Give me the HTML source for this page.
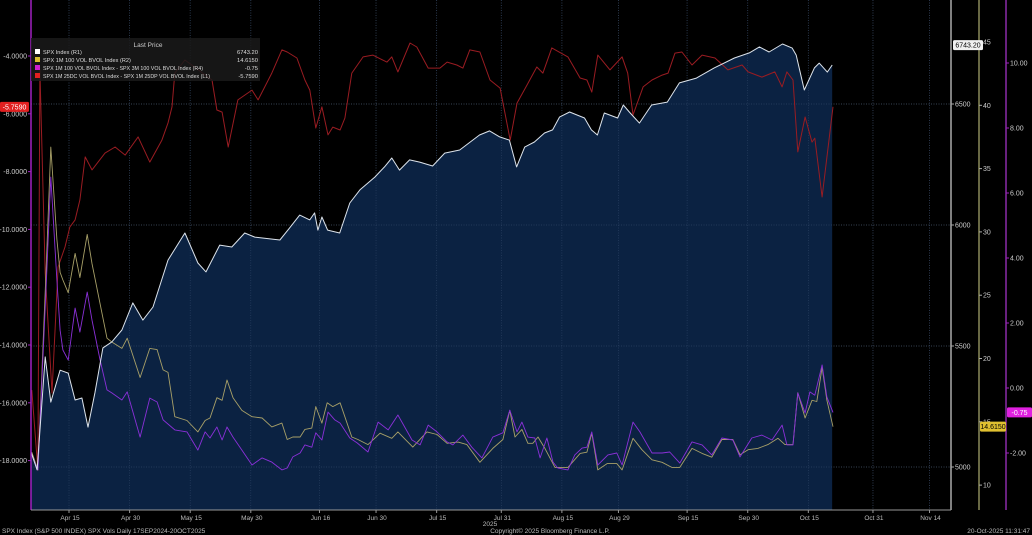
<!DOCTYPE html>
<html><head><meta charset="utf-8">
<style>
html,body{margin:0;padding:0;background:#000;width:1032px;height:535px;overflow:hidden}
svg{display:block;font-family:"Liberation Sans",sans-serif}
</style></head>
<body>
<svg id="chart" width="1032" height="535" viewBox="0 0 1032 535" xmlns="http://www.w3.org/2000/svg">
<rect x="0" y="0" width="1032" height="535" fill="#000"/>
<g id="grid"></g>
<g id="area"></g>
<g id="lines"></g>
<g id="axes"></g>
<g id="legend">
<rect x="31" y="38" width="229" height="43" fill="#1a1a1a" fill-opacity="0.85"/>
<text x="148" y="47" font-size="6.5" fill="#ccc" text-anchor="middle">Last Price</text>
<rect x="35" y="49" width="5" height="5" fill="#fff"/>
<text x="43" y="54" font-size="5.6" fill="#ddd">SPX Index  (R1)</text>
<text x="258" y="54" font-size="5.8" fill="#ddd" text-anchor="end">6743.20</text>
<rect x="35" y="57" width="5" height="5" fill="#d8c030"/>
<text x="43" y="62" font-size="5.6" fill="#ddd">SPX 1M 100 VOL BVOL Index  (R2)</text>
<text x="258" y="62" font-size="5.8" fill="#ddd" text-anchor="end">14.6150</text>
<rect x="35" y="65" width="5" height="5" fill="#d020d0"/>
<text x="43" y="70" font-size="5.6" fill="#ddd" textLength="160" lengthAdjust="spacingAndGlyphs">SPX 1M 100 VOL BVOL Index - SPX 3M 100 VOL BVOL Index  (R4)</text>
<text x="258" y="70" font-size="5.8" fill="#ddd" text-anchor="end">-0.75</text>
<rect x="35" y="73" width="5" height="5" fill="#e02020"/>
<text x="43" y="78" font-size="5.6" fill="#ddd" textLength="167" lengthAdjust="spacingAndGlyphs">SPX 1M 25DC VOL BVOL Index - SPX 1M 25DP VOL BVOL Index  (L1)</text>
<text x="258" y="78" font-size="5.8" fill="#ddd" text-anchor="end">-5.7590</text>
</g>
<text x="2" y="533" font-size="6.5" fill="#bbb">SPX Index (S&amp;P 500 INDEX) SPX Vols Daily 17SEP2024-20OCT2025</text>
<text x="550" y="533" font-size="6.5" fill="#bbb" text-anchor="middle">Copyright© 2025 Bloomberg Finance L.P.</text>
<text x="1030" y="533" font-size="6.5" fill="#bbb" text-anchor="end">20-Oct-2025 11:31:47</text>
</svg>
<script>
// x = days since Apr 15 2025
const dateTickDays = [0,15,30,45,62,76,91,107,122,136,153,168,183,199,213];
const dateTickLabels = ["Apr 15","Apr 30","May 15","May 30","Jun 16","Jun 30","Jul 15","Jul 31","Aug 15","Aug 29","Sep 15","Sep 30","Oct 15","Oct 31","Nov 14"];
const l1Ticks = [-4,-6,-8,-10,-12,-14,-16,-18];
const r1Ticks = [5000,5500,6000,6500];
const r2Ticks = [10,15,20,25,30,35,40,45];
const r4Ticks = [-2,0,2,4,6,8,10];

const spxDays = [-9.4,-7.9,-5.9,-4.5,-2.2,-0.2,1.5,3.2,4.7,6.4,8.4,10.6,13.1,15.8,18.3,20.8,24.5,28.7,31.9,33.9,37.3,40.3,43.5,46.0,52.2,54.6,57.1,59.6,60.8,61.6,62.6,64.0,67.0,69.5,72.0,75.7,78.1,79.9,81.8,84.3,86.8,90.0,93.0,96.7,101.6,104.1,106.6,109.0,110.8,112.8,115.2,117.7,119.7,121.4,123.9,127.6,129.3,130.8,132.5,135.8,137.2,138.7,141.2,144.2,148.1,151.1,155.3,159.7,164.7,168.4,170.9,173.3,176.6,179.0,180.0,182.0,184.5,185.7,187.7,188.9];
const spxValues = [5062,4988,5455,5268,5400,5388,5277,5285,5165,5306,5492,5517,5566,5678,5607,5661,5855,5967,5843,5806,5917,5909,5967,5950,5938,5988,6041,6021,6050,5979,6033,5979,5967,6091,6145,6198,6240,6277,6227,6269,6260,6244,6297,6310,6372,6389,6364,6351,6240,6322,6343,6380,6393,6446,6467,6442,6393,6372,6463,6442,6496,6467,6421,6496,6508,6587,6607,6649,6690,6711,6736,6715,6748,6731,6702,6558,6649,6669,6632,6661,6743.2];

const skewDays = [-9.2,-7.7,-7.2,-5.9,-4.2,-2.7,-1.0,0.2,1.5,2.7,4.0,5.7,8.9,11.4,13.9,17.1,20.0,23.0,24.5,25.5,26.2,28.7,35.4,36.6,37.9,39.4,41.8,45.3,46.8,50.2,52.7,54.0,56.4,58.4,59.6,61.1,62.6,64.1,65.3,67.1,68.3,70.0,72.8,75.2,78.7,79.9,81.4,84.4,86.1,88.9,91.8,93.6,96.0,97.5,99.2,101.7,104.2,106.7,109.2,110.9,113.4,115.8,117.3,119.5,123.5,126.5,128.2,129.4,130.9,133.9,136.9,138.3,139.6,142.1,144.3,146.8,148.3,150.0,151.7,154.2,156.7,159.9,163.1,166.6,168.1,171.5,174.7,176.5,177.7,179.2,180.4,182.2,183.9,184.6,186.4,189.1];
const skewValues = [-15.56,-18.33,-4.48,-11.51,-15.66,-11.30,-10.61,-9.92,-9.67,-8.98,-7.49,-7.94,-7.36,-7.15,-7.43,-6.80,-7.67,-6.91,-6.32,-5.76,-4.59,-4.14,-4.83,-5.87,-5.94,-7.15,-5.52,-5.18,-5.52,-4.59,-3.79,-3.86,-4.07,-4.83,-5.18,-6.49,-5.76,-6.73,-6.46,-6.56,-6.15,-4.59,-4.03,-3.97,-4.21,-4.03,-4.55,-3.55,-3.69,-4.42,-4.42,-4.21,-4.31,-4.42,-3.79,-3.86,-4.83,-5.11,-6.91,-5.63,-5.00,-4.38,-4.59,-3.72,-4.03,-4.76,-4.83,-5.25,-3.97,-4.48,-4.03,-4.59,-6.04,-5.07,-4.83,-4.66,-4.59,-3.90,-3.86,-4.31,-3.97,-4.07,-4.48,-4.31,-4.55,-4.73,-4.55,-5.07,-4.55,-4.83,-7.32,-6.11,-6.98,-6.84,-8.88,-5.759];

const volDays = [-9.2,-7.7,-5.7,-4.5,-3.0,-2.2,-1.5,-0.2,1.5,2.7,4.5,5.7,9.4,10.6,13.1,14.4,17.6,20.0,21.8,23.3,24.5,26.2,29.2,31.9,33.7,34.9,36.6,37.9,39.1,40.6,42.8,45.3,47.8,50.2,52.7,54.0,55.4,57.2,58.4,60.1,61.1,62.6,63.9,65.3,67.1,70.0,71.5,74.0,77.0,79.9,81.4,85.1,88.6,91.1,93.6,96.3,98.5,101.7,104.9,107.4,109.1,110.4,112.1,113.6,114.8,116.1,117.8,120.3,123.5,126.5,128.2,129.4,130.9,133.2,135.6,136.9,139.6,141.8,144.3,146.8,149.2,151.2,154.2,156.7,159.1,161.6,164.3,166.1,168.1,170.5,173.0,175.5,177.2,179.2,180.4,182.2,183.9,185.1,186.4,187.6,189.1];
const volValues = [12.6,11.2,26.8,36.7,29.4,26.8,26.2,25.2,28.3,26.4,29.8,27.5,21.6,21.3,20.8,21.6,18.5,20.8,20.7,19.1,18.9,15.4,15.1,14.2,15.1,15.3,16.9,16.7,18.3,16.9,15.9,15.4,15.3,14.6,14.9,13.6,13.8,13.8,14.4,14.5,16.2,14.9,16.5,16.2,16.5,13.8,13.6,13.2,14.1,13.7,14.2,13.0,14.2,14.0,13.3,13.4,13.2,11.8,12.9,13.6,15.9,13.8,14.4,13.3,13.3,13.8,12.9,11.4,11.4,12.5,12.6,14.1,11.2,11.7,11.7,11.2,13.7,12.8,12.0,11.8,11.4,11.4,12.9,12.5,12.2,13.6,13.6,12.4,12.8,12.9,13.2,13.7,13.2,13.2,17.3,15.3,16.7,16.6,19.3,16.7,14.615];

const termDays = [-9.2,-7.7,-5.7,-4.5,-3.0,-2.2,-1.5,-0.2,1.5,2.7,4.5,5.7,7.7,9.4,10.6,13.1,14.4,17.6,20.0,21.8,23.3,26.2,29.2,31.9,33.7,34.9,36.6,37.9,39.1,40.6,42.8,45.3,47.8,50.2,52.7,54.0,55.4,57.2,58.4,60.1,61.1,62.6,64.1,65.8,67.1,69.5,71.3,74.0,76.5,79.0,81.4,84.9,86.9,88.9,91.1,93.6,95.0,97.5,99.7,102.2,104.9,107.4,109.1,110.9,112.1,113.6,115.3,116.6,118.3,119.8,121.0,123.5,125.2,127.0,128.2,129.4,130.9,133.4,135.6,136.9,139.6,141.3,144.3,146.8,148.7,151.2,154.2,156.7,159.1,161.6,164.3,166.1,169.0,171.5,174.0,176.5,177.7,179.2,180.4,182.2,183.4,184.6,186.4,187.6,189.1];
const termValues = [-2.06,-2.52,3.02,6.49,3.32,1.78,1.17,0.86,2.46,1.72,2.95,2.09,0.86,-0.06,-0.15,-0.37,-0.12,-1.51,-0.31,-0.43,-0.98,-1.29,-1.35,-1.91,-1.35,-1.54,-1.20,-1.60,-1.20,-1.51,-1.91,-2.37,-2.15,-2.28,-2.52,-2.46,-2.12,-2.00,-1.75,-1.82,-1.38,-1.60,-0.74,-0.98,-1.08,-1.54,-1.69,-1.97,-1.05,-1.29,-0.83,-1.60,-1.75,-1.14,-1.35,-1.66,-1.75,-1.45,-1.82,-2.15,-1.51,-1.38,-0.68,-1.35,-1.05,-1.51,-1.54,-2.15,-1.54,-2.28,-2.46,-2.52,-2.06,-1.85,-1.82,-1.35,-2.37,-2.06,-2.00,-2.37,-1.05,-1.35,-2.00,-2.00,-1.97,-2.31,-1.66,-1.75,-2.06,-1.54,-1.60,-2.12,-1.54,-1.45,-1.60,-1.14,-1.75,-1.75,-0.15,-0.77,-0.12,-0.22,0.71,-0.28,-0.75];

const NS="http://www.w3.org/2000/svg";
const X0=31, X1=951, YB=510;
const xS = d => 69 + d*4.04;
const yL1 = v => 56 + (-4 - v)*28.9;
const yR1 = v => 104 + (6500 - v)*121/500;
const yR2 = v => 42 + (45 - v)*12.66;
const yR4 = v => 63 + (10 - v)*32.5;
function mk(tag, attrs, parent){const e=document.createElementNS(NS,tag);for(const k in attrs)e.setAttribute(k,attrs[k]);parent.appendChild(e);return e;}
const grid=document.getElementById('grid'), area=document.getElementById('area'), lines=document.getElementById('lines'), axes=document.getElementById('axes');

r1Ticks.forEach(v=>{const e=mk('line',{x1:X0,x2:X1,y1:yR1(v),y2:yR1(v),stroke:'#4a4a4a','stroke-width':0.8,'stroke-dasharray':'1,1.5'},grid);

});
dateTickDays.forEach(d=>{const e=mk('line',{x1:xS(d),x2:xS(d),y1:0,y2:YB,stroke:'#3a3a3a','stroke-width':0.8,'stroke-dasharray':'1,1.5'},grid);

});

let ap='M'+xS(spxDays[0])+','+YB;
spxDays.forEach((d,i)=>{ap+=' L'+xS(d).toFixed(1)+','+yR1(spxValues[i]).toFixed(1);});
ap+=' L'+xS(spxDays[spxDays.length-1])+','+YB+' Z';
const areaEl=mk('path',{d:ap,fill:'#0b2242'},area);


r1Ticks.forEach(v=>{const e=mk('line',{x1:X0,x2:X1,y1:yR1(v),y2:yR1(v),stroke:'#3c5272','stroke-width':0.6,'stroke-dasharray':'1,1.5'},area);

});
dateTickDays.forEach(d=>{const e=mk('line',{x1:xS(d),x2:xS(d),y1:0,y2:YB,stroke:'#2e4466','stroke-width':0.6,'stroke-dasharray':'1,1.5'},area);

});

function line(days, vals, ys, color, name, w){
  const p=days.map((d,i)=>(i?'L':'M')+xS(d).toFixed(1)+','+ys(vals[i]).toFixed(1)).join(' ');
  const e=mk('path',{d:p,fill:'none',stroke:color,'stroke-width':w,'stroke-linejoin':'round'},lines);
  
  
}
line(skewDays,skewValues,yL1,'#9a1c22','skew-line',1);
line(volDays,volValues,yR2,'#a8a068','vol-line',0.9);
line(termDays,termValues,yR4,'#8a30d8','term-spread-line',0.9);
line(spxDays,spxValues,yR1,'#dde4ec','spx-line',1);

[[X0,'#a020c0','left-axis-line'],[X1,'#aaaaaa','r1-axis-line'],[979,'#8a8a5a','r2-axis-line'],[1006,'#8a2aa8','r4-axis-line']].forEach(a=>{
  const e=mk('line',{x1:a[0],x2:a[0],y1:0,y2:YB,stroke:a[1],'stroke-width':1.5},axes);
  
  
});
const xa=mk('line',{x1:X0,x2:X1,y1:YB,y2:YB,stroke:'#999','stroke-width':1},axes);



dateTickDays.forEach((d,i)=>{
  const t=mk('line',{x1:xS(d),x2:xS(d),y1:YB,y2:YB+3,stroke:'#999'},axes);
  
  
  const l=mk('text',{x:xS(d)+1,y:YB+10,'font-size':6.5,fill:'#bbb','text-anchor':'middle'},axes);
  l.textContent=dateTickLabels[i];
  
  
});
const yr=mk('text',{x:490,y:526,'font-size':6.5,fill:'#bbb','text-anchor':'middle'},axes);
yr.textContent='2025';



function ticks(vals, ys, xLine, fmt, color, name, left){
  vals.forEach(v=>{
    const y=ys(v);
    const t=mk('line',{x1:left?xLine-3:xLine,x2:left?xLine:xLine+3,y1:y,y2:y,stroke:color},axes);
    
    
    const l=mk('text',{x:left?xLine-4:xLine+4,y:y+2.5,'font-size':7,fill:'#ccc','text-anchor':left?'end':'start'},axes);
    l.textContent=fmt(v);
    
    
  });
}
ticks(l1Ticks,yL1,X0,v=>v.toFixed(4),'#a020c0','l1',true);
ticks(r1Ticks,yR1,X1,v=>String(v),'#aaa','r1',false);
ticks(r2Ticks,yR2,979,v=>String(v),'#aaa','r2',false);
ticks(r4Ticks,yR4,1006,v=>v.toFixed(2),'#a020c0','r4',false);

function badge(x,y,w,txt,bg,fg,name){
  const r=mk('rect',{x:x,y:y-5,width:w,height:10,fill:bg,rx:1.5},axes);
  
  
  const t=mk('text',{x:x+w/2,y:y+2.5,'font-size':7,fill:fg,'text-anchor':'middle'},axes);
  t.textContent=txt;
  
  
}
badge(0,yL1(skewValues[skewValues.length-1]),29,'-5.7590','#e02020','#fff','skew-last-label');
badge(953,yR1(spxValues[spxValues.length-1]),30,'6743.20','#f0f0f0','#000','spx-last-label');
badge(980,yR2(volValues[volValues.length-1]),26,'14.6150','#e0c030','#000','vol-last-label');
badge(1007,yR4(termValues[termValues.length-1]),25,'-0.75','#e020e0','#fff','term-last-label');
</script>
</body></html>
